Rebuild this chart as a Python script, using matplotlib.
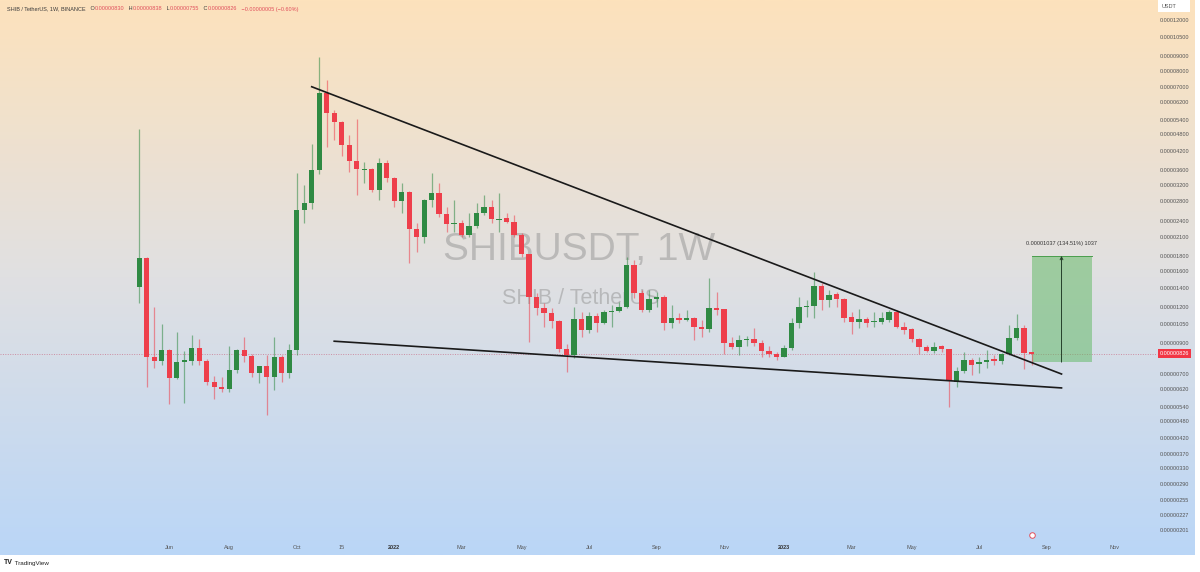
import matplotlib.pyplot as plt
import matplotlib.dates as mdates
import matplotlib.transforms as mtransforms
from matplotlib.patches import Rectangle
from matplotlib.ticker import NullLocator
import numpy as np
import pandas as pd

plt.rcParams['font.family'] = ['Liberation Sans', 'DejaVu Sans']

# SHIB/USDT weekly candles, prices in units of 1e-8 USDT
first_week = "2021-05-10"
opens = [1412, 1775, 802, 780, 850, 681, 775, 780, 866, 780,
         659, 632, 622, 724, 850, 812, 705, 748, 683, 806,
         705, 850, 2614, 2758, 3602, 6700, 5677, 5310, 4402, 3881,
         3602, 3640, 3069, 3801, 3371, 2809, 3028, 2238, 2100, 2832,
         2989, 2530, 2335, 2349, 2139, 2298, 2546, 2672, 2412, 2450,
         2381, 2139, 1835, 1297, 1188, 1141, 1075, 855, 817, 1090,
         998, 1117, 1058, 1153, 1163, 1198, 1681, 1340, 1172, 1277,
         1297, 1058, 1100, 1081, 1102, 1025, 1006, 1188, 1180, 897,
         873, 921, 931, 902, 845, 823, 806, 864, 1058, 1198,
         1205, 1420, 1270, 1328, 1277, 1105, 1061, 1088, 1061, 1067,
         1081, 1156, 1025, 1004, 928, 873, 845, 878, 855, 659,
         718, 785, 760, 771, 790, 781, 821, 934, 1017, 830]
highs = [5000, 1790, 1204, 1047, 855, 985, 843, 959, 928, 790,
         690, 685, 878, 855, 946, 820, 750, 817, 946, 817,
         892, 3508, 3194, 4436, 8900, 7415, 5829, 5350, 4770, 5410,
         3850, 3660, 3957, 3903, 3400, 3255, 3050, 2349, 2850, 3508,
         3238, 2684, 2832, 2412, 2546, 2758, 2948, 2832, 2989, 2546,
         2511, 2165, 1840, 1340, 1237, 1188, 1080, 892, 1203, 1156,
         1156, 1141, 1172, 1220, 1252, 1789, 1750, 1376, 1376, 1357,
         1321, 1220, 1141, 1172, 1110, 1081, 1512, 1357, 1185, 946,
         959, 950, 1012, 921, 878, 838, 885, 1097, 1303, 1270,
         1592, 1452, 1376, 1357, 1287, 1156, 1178, 1110, 1150, 1156,
         1172, 1172, 1067, 1012, 935, 885, 909, 885, 860, 744,
         838, 798, 806, 850, 817, 828, 1039, 1134, 1039, 838]
lows = [1243, 633, 734, 754, 551, 675, 557, 754, 754, 642,
        573, 609, 605, 707, 775, 683, 651, 505, 617, 659,
        678, 817, 2349, 2634, 3487, 4323, 4582, 4031, 3555, 2948,
        3238, 3028, 2832, 3281, 2672, 2546, 1704, 1871, 2001, 2684,
        2476, 2195, 2195, 2109, 2109, 2257, 2511, 2361, 2195, 2349,
        2109, 1797, 909, 1126, 1025, 1012, 838, 715, 796, 946,
        972, 985, 1047, 1025, 1150, 1188, 1287, 1156, 1156, 1203,
        998, 1012, 1053, 1075, 921, 942, 985, 1126, 823, 855,
        817, 878, 878, 806, 802, 785, 802, 850, 1012, 1110,
        1100, 1172, 1203, 1203, 1067, 966, 1017, 1025, 1020, 1047,
        1067, 1012, 966, 909, 823, 838, 829, 838, 539, 632,
        705, 696, 705, 734, 754, 760, 817, 921, 728, 755]
closes = [1775, 802, 780, 850, 681, 775, 785, 866, 780, 659,
          630, 622, 724, 850, 812, 705, 748, 683, 806, 705,
          850, 2614, 2758, 3602, 6700, 5677, 5310, 4402, 3881, 3622,
          3640, 3069, 3801, 3371, 2809, 3028, 2238, 2100, 2832, 2989,
          2530, 2335, 2349, 2139, 2298, 2546, 2672, 2425, 2435, 2381,
          2139, 1835, 1297, 1188, 1141, 1075, 855, 817, 1090, 998,
          1117, 1058, 1153, 1163, 1198, 1681, 1340, 1172, 1277, 1297,
          1058, 1097, 1081, 1102, 1020, 1006, 1188, 1172, 897, 873,
          921, 931, 902, 845, 823, 806, 864, 1058, 1198, 1205,
          1420, 1270, 1321, 1277, 1097, 1061, 1088, 1053, 1075, 1097,
          1156, 1025, 998, 928, 873, 845, 873, 855, 664, 718,
          785, 754, 771, 785, 781, 821, 934, 1017, 831, 826]

last_price = 826

# price scale labels (1e-8 USDT)
price_ticks = [12000, 10500, 9000, 8000, 7000, 6200, 5400, 4800, 4200, 3600,
               3200, 2800, 2400, 2100, 1800, 1600, 1400, 1200, 1050, 900,
               700, 620, 540, 480, 420, 370, 330, 290, 255, 227, 201]

tick_dates = ["2021-06-07", "2021-08-02", "2021-10-04", "2021-11-15", "2022-01-03",
              "2022-03-07", "2022-05-02", "2022-07-04", "2022-09-05", "2022-11-07",
              "2023-01-02", "2023-03-06", "2023-05-01", "2023-07-03", "2023-09-04",
              "2023-11-06"]
tick_labels = ["Jun", "Aug", "Oct", "15", "2022", "Mar", "May", "Jul", "Sep", "Nov",
               "2023", "Mar", "May", "Jul", "Sep", "Nov"]

# drawings
upper_line_dates = ["2021-10-18", "2023-09-18"]
upper_line_prices = [7025, 701]
lower_line_dates = ["2021-11-08", "2023-09-18"]
lower_line_prices = [912, 627]
range_dates = ["2023-08-21", "2023-09-18", "2023-10-16"]
range_low, range_high = 771, 1808
range_text = "0.00001037 (134.51%) 1037"

header = [("SHIB / TetherUS, 1W, BINANCE", "#3b3b3b"),
          ("   O", "#3b3b3b"), ("0.00000830", "#e0505c"),
          ("   H", "#3b3b3b"), ("0.00000838", "#e0505c"),
          ("   L", "#3b3b3b"), ("0.00000755", "#e0505c"),
          ("   C", "#3b3b3b"), ("0.00000826", "#e0505c"),
          ("   \u22120.00000005 (\u22120.60%)", "#e0505c")]

W, H = 1200, 572
fig = plt.figure(figsize=(W / 100, H / 100), dpi=100, facecolor='white')

# gradient background
bg = fig.add_axes([0, 17 / H, 1195 / W, 555 / H], zorder=0)
stops = np.array([[253, 226, 188], [224, 224, 226], [186, 214, 247]]) / 255
t = np.linspace(0, 1, 300)
grad = np.stack([np.interp(t, [0, 0.5, 1], stops[:, c]) for c in range(3)], axis=1)
bg.imshow(grad[:, None, :], aspect='auto', extent=[0, 1, 0, 1])
bg.axis('off')

ax = fig.add_axes([0, 32 / H, 1150 / W, 540 / H], zorder=1)
ax.set_facecolor('none')
for s in ax.spines.values():
    s.set_visible(False)

dates = pd.date_range(first_week, periods=len(opens), freq='7D')
x = mdates.date2num(dates)
o = np.array(opens, float)
c = np.array(closes, float)
up = c >= o
green, red = '#2f8a43', '#ee3f4b'
cols = np.where(up, green, red)
bot = np.minimum(o, c)
top = np.maximum(o, c)
top = np.maximum(top, bot * 1.01)

ax.vlines(x, lows, highs, colors=cols, lw=0.9, alpha=0.55, zorder=2)
ax.bar(x, top - bot, bottom=bot, width=5.0, color=cols, zorder=3)

ax.set_yscale('log')
ax.set_ylim(185.1, 14088)
ax.set_xlim(x[0] - 130, x[0] + 943.6)

# trend lines
ax.plot(mdates.date2num(pd.to_datetime(upper_line_dates)), upper_line_prices,
        color='#1a1a1a', lw=1.2, zorder=4)
ax.plot(mdates.date2num(pd.to_datetime(lower_line_dates)), lower_line_prices,
        color='#1a1a1a', lw=1.2, zorder=4)

# price range tool
rd = mdates.date2num(pd.to_datetime(range_dates))
ax.fill_between([rd[0], rd[2]], range_low, range_high, color='#5cb85f', alpha=0.5,
                lw=0, zorder=1.5)
ax.plot([rd[0], rd[2]], [range_high, range_high], color='#4a9e4d', lw=0.7, zorder=1.6)
ax.annotate('', xy=(rd[1], range_high), xytext=(rd[1], range_low),
            arrowprops=dict(arrowstyle='->', color='#24402a', lw=0.7,
                            shrinkA=0, shrinkB=0, mutation_scale=5), zorder=5)
ax.annotate(range_text, xy=(rd[1], range_high), xytext=(0, 7), textcoords='offset points',
            ha='center', va='bottom', fontsize=4, color='#333333')

# last price line and label
blend = mtransforms.blended_transform_factory(ax.transAxes, ax.transData)
ax.plot([0, 1.006], [last_price, last_price], transform=blend, color='#c86c86',
        lw=0.7, ls=(0, (1, 1.5)), alpha=0.7, clip_on=False, zorder=1.4)
ax.text(1160 / 1150, last_price, f"{last_price * 1e-8:.8f}", transform=blend,
        fontsize=4, color='white', ha='left', va='center', clip_on=False,
        bbox=dict(boxstyle='square,pad=0.35', fc='#f23645', ec='none'))

# watermark
ax.text(0.504, 0.537, "SHIBUSDT, 1W", transform=ax.transAxes, fontsize=28,
        color='#8a8a8a', alpha=0.45, ha='center', va='center', zorder=0.5)
ax.text(0.505, 0.448, "SHIB / TetherUS", transform=ax.transAxes, fontsize=15.5,
        color='#8a8a8a', alpha=0.45, ha='center', va='center', zorder=0.5)

# axes ticks
ax.yaxis.tick_right()
ax.set_yticks(price_ticks)
ax.set_yticklabels([f"{v * 1e-8:.8f}" for v in price_ticks])
ax.yaxis.set_minor_locator(NullLocator())
ax.tick_params(axis='y', length=0, pad=7.2, labelsize=4, labelcolor='#555555')
ax.set_xticks(mdates.date2num(pd.to_datetime(tick_dates)))
ax.set_xticklabels(tick_labels)
ax.tick_params(axis='x', length=0, pad=3.7, labelsize=4, labelcolor='#555555')
for lab in ax.get_xticklabels():
    if lab.get_text().startswith('20'):
        lab.set_fontweight('bold')
        lab.set_color('#333333')

# event marker
ev = mtransforms.blended_transform_factory(ax.transData, ax.transAxes)
ax.plot([x[-1]], [0.01], transform=ev, marker='o', ms=4, mfc='white',
        mec='#e0505c', mew=0.7, clip_on=False)

# header
prev = fig.text(7 / W, 1 - 9 / H, header[0][0], color=header[0][1], fontsize=4,
                va='center', ha='left')
for txt, col in header[1:]:
    prev = ax.annotate(txt, xy=(1, 0.5), xycoords=prev, va='center', ha='left',
                       fontsize=4, color=col, annotation_clip=False)

# currency box
fig.patches.append(Rectangle((1158 / W, 1 - 12 / H), 32 / W, 12 / H,
                             transform=fig.transFigure, fc='white', ec='none', zorder=3))
fig.text(1162 / W, 1 - 6 / H, "USDT", fontsize=4, color='#555555', va='center',
         ha='left', zorder=4)

# logo
logo = fig.text(4 / W, 1 - 563 / H, "TV", fontsize=5, fontweight='bold',
                color='#222222', va='center', ha='left')
ax.annotate(" TradingView", xy=(1, 0.5), xycoords=logo, va='center', ha='left',
            fontsize=4.5, color='#222222', annotation_clip=False)

fig.savefig("out.png", dpi=100, facecolor='white')
